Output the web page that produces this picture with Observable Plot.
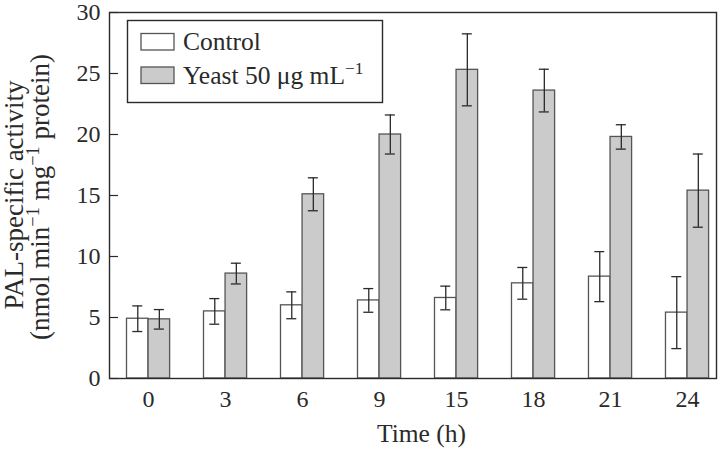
<!DOCTYPE html>
<html>
<head>
<meta charset="utf-8">
<script src="https://cdn.jsdelivr.net/npm/d3@7"></script>
<script src="https://cdn.jsdelivr.net/npm/@observablehq/plot@0.6"></script>
<style>
  html, body { margin: 0; padding: 0; background: #fff; }
  #chart svg { display: block; }
</style>
</head>
<body>
<div id="chart"></div>
<script>
// ---- data ----
const times = ["0", "3", "6", "9", "15", "18", "21", "24"];
const controlMean = [4.9, 5.5, 6.0, 6.4, 6.6, 7.8, 8.35, 5.4];
const controlErr  = [1.05, 1.05, 1.1, 0.97, 0.97, 1.3, 2.05, 2.95];
const yeastMean   = [4.85, 8.6, 15.1, 20.0, 25.3, 23.6, 19.8, 15.4];
const yeastErr    = [0.8, 0.85, 1.35, 1.6, 2.95, 1.75, 1.0, 3.0];
const yTicks = [0, 5, 10, 15, 20, 25, 30];
const seriesNames = ["Control", "Yeast 50 μg mL"];

const control = times.map((t, i) => ({time: t, value: controlMean[i], lo: controlMean[i] - controlErr[i], hi: controlMean[i] + controlErr[i]}));
const yeast = times.map((t, i) => ({time: t, value: yeastMean[i], lo: yeastMean[i] - yeastErr[i], hi: yeastMean[i] + yeastErr[i]}));

// ---- layout ----
const W = 720, H = 449;
const mL = 109, mR = 4, mT = 12, mB = 71;
const xInsetL = 17.5, xInsetR = 7.4;
const padInner = 0.44;
const step = (W - mL - mR - xInsetL - xInsetR) / (times.length - padInner);
const bw = step * (1 - padInner);
const half = bw / 2;
const capHalf = 5;
const cCtr = bw / 4, yCtr = 3 * bw / 4;

const font = "'Liberation Serif', 'Times New Roman', serif";
const ink = "#2a2a2a";
const barStroke = "#555";
const grayFill = "#cbcbcb";

const chart = Plot.plot({
  width: W, height: H,
  marginLeft: mL, marginRight: mR, marginTop: mT, marginBottom: mB,
  style: {fontFamily: font, fontSize: "24px", color: ink, background: "#fff"},
  x: {domain: times, paddingInner: padInner, paddingOuter: 0, insetLeft: xInsetL, insetRight: xInsetR, round: false, label: null},
  y: {domain: [0, 30], label: null},
  marks: [
    Plot.barY(control, {x: "time", y: "value", fill: "white", stroke: barStroke, strokeWidth: 1.3, insetRight: half}),
    Plot.barY(yeast, {x: "time", y: "value", fill: grayFill, stroke: barStroke, strokeWidth: 1.3, insetLeft: half}),
    Plot.ruleX(control, {x: "time", y1: "lo", y2: "hi", dx: cCtr - half, stroke: ink, strokeWidth: 1.3}),
    Plot.ruleX(yeast, {x: "time", y1: "lo", y2: "hi", dx: yCtr - half, stroke: ink, strokeWidth: 1.3}),
    Plot.tickY(control, {x: "time", y: "lo", insetLeft: cCtr - capHalf, insetRight: bw - cCtr - capHalf, stroke: ink, strokeWidth: 1.3}),
    Plot.tickY(control, {x: "time", y: "hi", insetLeft: cCtr - capHalf, insetRight: bw - cCtr - capHalf, stroke: ink, strokeWidth: 1.3}),
    Plot.tickY(yeast, {x: "time", y: "lo", insetLeft: yCtr - capHalf, insetRight: bw - yCtr - capHalf, stroke: ink, strokeWidth: 1.3}),
    Plot.tickY(yeast, {x: "time", y: "hi", insetLeft: yCtr - capHalf, insetRight: bw - yCtr - capHalf, stroke: ink, strokeWidth: 1.3}),
    Plot.axisY({ticks: yTicks, tickSize: 0, tickPadding: 9, fontSize: 24, fill: ink}),
    Plot.axisY({ticks: yTicks, tickSize: 9, dx: 9, text: null, stroke: ink, strokeWidth: 1.2}),
    Plot.axisX({tickSize: 0, tickPadding: 11, fontSize: 24, fill: ink}),
    Plot.frame({stroke: ink, strokeWidth: 1.4})
  ]
});
document.getElementById("chart").appendChild(chart);

// ---- text with superscripts, legend ----
const svg = d3.select(chart);
function rich(g, parts, size) {
  let pending = 0;
  parts.forEach(p => {
    if (typeof p === "string") {
      g.append("tspan").attr("font-size", size).attr("dy", pending).text(p);
      pending = 0;
    } else {
      g.append("tspan").attr("font-size", size * 0.68).attr("dy", pending - size * 0.38).text(p.sup);
      pending = size * 0.38;
    }
  });
}

// x label
svg.append("text").attr("x", (mL + W - mR) / 2 + 9).attr("y", 442)
  .attr("text-anchor", "middle").attr("font-family", font).attr("font-size", 25.5).attr("fill", ink)
  .text("Time (h)");

// y label (two lines, rotated)
const yc = (mT + H - mB) / 2;
const yl1 = svg.append("text").attr("transform", `translate(23,${yc}) rotate(-90)`)
  .attr("text-anchor", "middle").attr("font-family", font).attr("fill", ink);
rich(yl1, ["PAL-specific activity"], 27);
const yl2 = svg.append("text").attr("transform", `translate(49,${yc + 2}) rotate(-90)`)
  .attr("text-anchor", "middle").attr("font-family", font).attr("fill", ink);
rich(yl2, ["(nmol min", {sup: "−1"}, " mg", {sup: "−1"}, " protein)"], 27);

// legend
const lg = svg.append("g");
lg.append("rect").attr("x", 127.5).attr("y", 20.5).attr("width", 255).attr("height", 82)
  .attr("fill", "white").attr("stroke", ink).attr("stroke-width", 1.4);
const rows = [
  {name: seriesNames[0], fill: "white", y: 33.5, sup: null},
  {name: seriesNames[1], fill: grayFill, y: 67, sup: "−1"}
];
rows.forEach(r => {
  lg.append("rect").attr("x", 141).attr("y", r.y).attr("width", 33).attr("height", 16.5)
    .attr("fill", r.fill).attr("stroke", barStroke).attr("stroke-width", 1.3);
  const t = lg.append("text").attr("x", 183).attr("y", r.y + 16.5).attr("text-anchor", "start")
    .attr("font-family", font).attr("fill", ink);
  rich(t, r.sup ? [r.name, {sup: r.sup}] : [r.name], 25.5);
});
</script>
</body>
</html>
